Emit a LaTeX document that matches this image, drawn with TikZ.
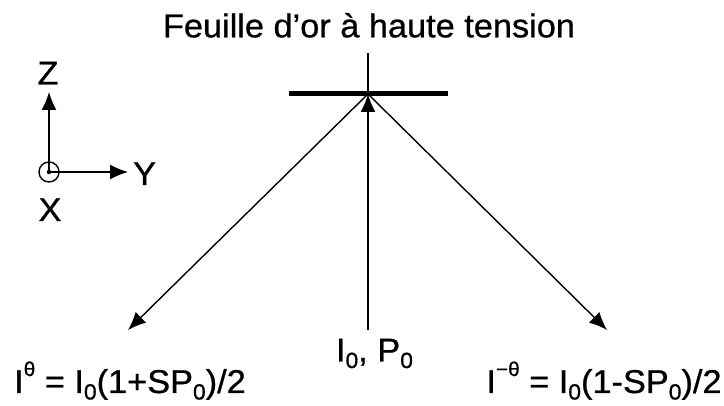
\documentclass[tikz,border=0pt]{standalone}
\usepackage{fontspec}
\setmainfont[FakeStretch=1.04, FakeBold=0.8]{Liberation Sans}
\usetikzlibrary{arrows.meta}
\newcommand{\lowtxt}[1]{\raisebox{-6.5pt}{\fontsize{22}{22}\selectfont #1}}
\newcommand{\hightxt}[1]{\raisebox{17pt}{\fontsize{20}{20}\selectfont #1}}
\begin{document}
\begin{tikzpicture}
[x=1pt, y=-1pt, font=\fontsize{33}{38}\selectfont, >={Latex[length=18pt, width=15pt]}]
\tikzstyle{beam}=[line width=1.4pt]
\tikzstyle{txt}=[inner sep=0pt, anchor=base]
\useasboundingbox (0,0) rectangle (724,406);

% gold foil
\coordinate	(P)	at (368,94);
\coordinate	(PL)	at (289,94);
\coordinate	(PR)	at (448,94);
\coordinate	(N)	at (368,53);
\node[txt]	(title)	at (369,37.3)	{Feuille d’or à haute tension};

% beams
\coordinate	(src)	at (368,330);
\coordinate	(outL)	at (128,330);
\coordinate	(outR)	at (607,330);
\node[txt]	(I0)	at (374.5,361.5)	{I\lowtxt{0}, P\lowtxt{0}};
\node[txt]	(Ip)	at (130,393)	{I\hightxt{θ} = I\lowtxt{0}(1+SP\lowtxt{0})/2};
\node[txt]	(Im)	at (604,393)	{I\hightxt{−θ} = I\lowtxt{0}(1-SP\lowtxt{0})/2};

% axes
\coordinate	(O)	at (49,172);
\coordinate	(Zt)	at (49,92);
\coordinate	(Yt)	at (128,172);
\node[circle, draw, beam, inner sep=0pt, minimum size=20pt]	(ox)	at (O)	{};
\fill	(O) circle (2.2pt);
\node[txt]	(Z)	at (48,84.5)	{Z};
\node[txt]	(X)	at (50,221)	{X};
\node[txt, anchor=base west]	(Y)	at (133,185)	{Y};

\draw [beam, ->] (O)--(Zt);
\draw [beam, ->] (O)--(Yt);
\draw [beam, ->] (src)--(P);
\draw [beam] (P)--(N);
\draw [beam, ->] (P)--(outL);
\draw [beam, ->] (P)--(outR);
\draw [line width=5pt] (PL)--(PR);

\end{tikzpicture}
\end{document}
